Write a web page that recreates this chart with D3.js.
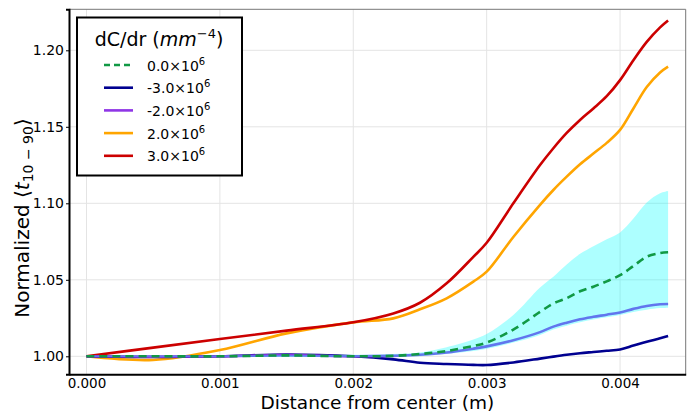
<!DOCTYPE html>
<html>
<head>
<meta charset="utf-8">
<script src="https://cdn.jsdelivr.net/npm/d3@7"></script>
<style>
  body { margin: 0; background: #fff; }
  svg { display: block; font-family: "DejaVu Sans", sans-serif; }
</style>
</head>
<body>
<div id="chart"></div>
<script>
// radial distance (m)
const xs = [0, 0.0005, 0.001, 0.0015, 0.002, 0.0023, 0.0025, 0.0027, 0.0029, 0.003,
  0.0032, 0.0034, 0.0035, 0.0036, 0.0037, 0.0038, 0.0039, 0.004, 0.0041, 0.0042, 0.0043, 0.00436];

// normalized <t10-90> for each dC/dr
const tZero = [1.000, 1.000, 1.000, 1.0006, 1.000, 1.0003, 1.0015, 1.0035, 1.0068, 1.009,
  1.0175, 1.029, 1.0346, 1.038, 1.0425, 1.0455, 1.049, 1.053, 1.059, 1.0651, 1.0675, 1.068];
const tNeg3 = [1.000, 0.9995, 1.000, 1.0012, 1.000, 0.998, 0.9958, 0.995, 0.9944, 0.9943,
  0.996, 0.9985, 0.9998, 1.001, 1.002, 1.0028, 1.0036, 1.0045, 1.007, 1.0095, 1.0118, 1.0133];
const tNeg2 = [1.000, 0.9998, 1.000, 1.0008, 1.000, 1.0003, 1.001, 1.0025, 1.005, 1.0065,
  1.0105, 1.0158, 1.0194, 1.022, 1.0242, 1.0258, 1.0272, 1.0287, 1.031, 1.0329, 1.034, 1.0342];
const tPos2 = [1.000, 0.9976, 1.0041, 1.015, 1.0222, 1.0248, 1.0307, 1.0379, 1.0488, 1.0553,
  1.078, 1.099, 1.1087, 1.1174, 1.1255, 1.1325, 1.1395, 1.148, 1.162, 1.176, 1.1855, 1.1893];
const tPos3 = [1.000, 1.0057, 1.0113, 1.0168, 1.0222, 1.028, 1.035, 1.0477, 1.065, 1.0742,
  1.100, 1.125, 1.136, 1.146, 1.1545, 1.162, 1.170, 1.1805, 1.1935, 1.2055, 1.215, 1.2195];

// spread band around the 0.0 series
const bandHigh = [1.0005, 1.0005, 1.0006, 1.0008, 1.001, 1.0015, 1.0025, 1.006, 1.011, 1.0145,
  1.027, 1.045, 1.052, 1.060, 1.067, 1.072, 1.0765, 1.081, 1.090, 1.1005, 1.1065, 1.108];
const bandLow = [0.9995, 0.9995, 0.9995, 0.9995, 0.9995, 0.9995, 1.000, 1.0015, 1.0035, 1.005,
  1.009, 1.014, 1.0175, 1.020, 1.0222, 1.024, 1.0255, 1.027, 1.029, 1.0305, 1.0315, 1.0318];

const xTicks = [0, 0.001, 0.002, 0.003, 0.004];
const yTicks = [1.00, 1.05, 1.10, 1.15, 1.20];

const legendLabels = ["0.0", "-3.0", "-2.0", "2.0", "3.0"];
const series = [
  {values: tZero, color: "#119944", dash: "8,5"},
  {values: tNeg3, color: "#000090", dash: null},
  {values: tNeg2, color: "#8f35e6", dash: null},
  {values: tPos2, color: "#ffa500", dash: null},
  {values: tPos3, color: "#cc0000", dash: null}
];

const width = 693, height = 413;
const plotL = 69, plotR = 685.7, plotT = 9.3, plotB = 374.3;

const svg = d3.select("#chart").append("svg")
    .attr("width", width)
    .attr("height", height);

const x = d3.scaleLinear()
    .domain([-0.000131, 0.004492])
    .range([plotL, plotR]);
const y = d3.scaleLinear()
    .domain([0.98824, 1.2268])
    .range([plotB, plotT]);

// grid
svg.append("g")
  .selectAll("line")
  .data(xTicks)
  .join("line")
    .attr("x1", d => x(d)).attr("x2", d => x(d))
    .attr("y1", plotT).attr("y2", plotB)
    .attr("stroke", "#e4e4e4");
svg.append("g")
  .selectAll("line")
  .data(yTicks)
  .join("line")
    .attr("x1", plotL).attr("x2", plotR)
    .attr("y1", d => y(d)).attr("y2", d => y(d))
    .attr("stroke", "#e4e4e4");

// curves
const line = vals => d3.line()
    .x((d, i) => x(xs[i]))
    .y(d => y(d))
    .curve(d3.curveCatmullRom)(vals);

const drawOrder = [3, 4, 1, 2];
drawOrder.forEach(k => {
  svg.append("path")
    .attr("d", line(series[k].values))
    .attr("fill", "none")
    .attr("stroke", series[k].color)
    .attr("stroke-width", 2.6);
});

const area = d3.area()
    .x((d, i) => x(xs[i]))
    .y0((d, i) => y(bandLow[i]))
    .y1(d => y(d))
    .curve(d3.curveCatmullRom);
svg.append("path")
  .attr("d", area(bandHigh))
  .attr("fill", "#00ffff")
  .attr("fill-opacity", 0.32);

svg.append("path")
  .attr("d", line(tZero))
  .attr("fill", "none")
  .attr("stroke", series[0].color)
  .attr("stroke-width", 2.6)
  .attr("stroke-dasharray", series[0].dash);

// frame
svg.append("line")
  .attr("x1", plotL).attr("x2", plotR).attr("y1", plotT).attr("y2", plotT)
  .attr("stroke", "#777").attr("stroke-width", 1);
svg.append("line")
  .attr("x1", plotR).attr("x2", plotR).attr("y1", plotT).attr("y2", plotB)
  .attr("stroke", "#777").attr("stroke-width", 1);

// axes
const xAxis = d3.axisBottom(x).tickValues(xTicks).tickFormat(d3.format(".3f")).tickSize(0).tickPadding(4);
const yAxis = d3.axisLeft(y).tickValues(yTicks).tickFormat(d3.format(".2f")).tickSize(3).tickPadding(2);

svg.append("g")
  .attr("transform", `translate(0, ${plotB})`)
  .call(xAxis)
  .call(g => g.select(".domain").attr("stroke", "#000").attr("stroke-width", 2))
  .call(g => g.selectAll("text").attr("font-size", 13.5).attr("fill", "#000")
    .attr("font-family", "DejaVu Sans"));

svg.append("g")
  .attr("transform", `translate(${plotL}, 0)`)
  .call(yAxis)
  .call(g => g.select(".domain").attr("stroke", "#000").attr("stroke-width", 2))
  .call(g => g.selectAll(".tick line").attr("stroke", "#000"))
  .call(g => g.selectAll("text").attr("font-size", 14).attr("fill", "#000")
    .attr("font-family", "DejaVu Sans"));

// axis titles
svg.append("text")
  .attr("x", (plotL + plotR) / 2)
  .attr("y", 408.6)
  .attr("text-anchor", "middle")
  .attr("font-size", 18.5)
  .text("Distance from center (m)");

const yl = svg.append("text")
  .attr("transform", "translate(29, 218) rotate(-90)")
  .attr("text-anchor", "middle")
  .attr("font-size", 20);
yl.append("tspan").text("Normalized \u27E8");
yl.append("tspan").attr("font-style", "italic").text("t");
yl.append("tspan").attr("font-size", 14).attr("dy", 4).text("10 \u2212 90");
yl.append("tspan").attr("dy", -4).text("\u27E9");

// legend
const lg = svg.append("g");
lg.append("rect")
  .attr("x", 77).attr("y", 17.5)
  .attr("width", 165).attr("height", 158)
  .attr("fill", "#fff")
  .attr("stroke", "#000")
  .attr("stroke-width", 2);

const title = lg.append("text")
  .attr("x", 159).attr("y", 46)
  .attr("text-anchor", "middle")
  .attr("font-size", 19);
title.append("tspan").text("dC/dr (");
title.append("tspan").attr("font-style", "italic").text("mm");
title.append("tspan").attr("font-size", 13).attr("dy", -8).text("\u22124");
title.append("tspan").attr("dy", 8).text(")");

series.forEach((s, i) => {
  const ly = 65 + i * 22.7;
  lg.append("line")
    .attr("x1", 104).attr("x2", 133)
    .attr("y1", ly).attr("y2", ly)
    .attr("stroke", s.color)
    .attr("stroke-width", 2.6)
    .attr("stroke-dasharray", s.dash ? "6,4" : null);
  const t = lg.append("text")
    .attr("x", 147).attr("y", ly + 5.5)
    .attr("font-size", 14);
  t.append("tspan").text(legendLabels[i] + "\u00D710");
  t.append("tspan").attr("font-size", 10).attr("dy", -6).text("6");
});
</script>
</body>
</html>
